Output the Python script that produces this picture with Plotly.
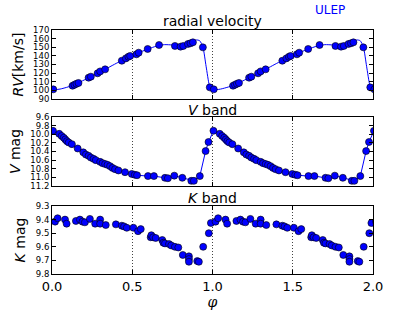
import plotly.graph_objects as go

# ---- data (one pulsation cycle) ----
rv_phase = [0.008, 0.128, 0.14, 0.152, 0.165, 0.228, 0.242, 0.284, 0.30, 0.331,
            0.435, 0.46, 0.476, 0.487, 0.526, 0.54, 0.596, 0.667, 0.766, 0.801,
            0.818, 0.847, 0.863, 0.878, 0.94, 0.983]
rv_vel = [101.2, 105.4, 106.5, 107.6, 108.6, 114.7, 115.9, 119.8, 122.0, 124.4,
          134.4, 137.1, 139.0, 139.9, 141.8, 143.7, 148.0, 152.6, 151.5, 150.7,
          151.5, 153.8, 154.6, 155.7, 149.9, 103.5]

rv_model_phase = [0.0, 0.05, 0.1, 0.15, 0.2, 0.25, 0.3, 0.35, 0.4, 0.45, 0.5, 0.55,
                  0.6, 0.65, 0.7, 0.75, 0.8, 0.85, 0.88, 0.9, 0.92, 0.94, 0.96,
                  0.98, 0.99]
rv_model_vel = [100.5, 101.5, 104.0, 107.5, 112.0, 116.5, 121.3, 126.3, 131.3, 136.0,
                140.5, 144.5, 148.0, 151.3, 153.0, 152.7, 152.7, 154.6, 157.0, 158.5,
                157.6, 150.5, 128.0, 106.0, 101.8]

v_phase = [0.006, 0.045, 0.06, 0.073, 0.083, 0.093, 0.104, 0.124, 0.16, 0.195,
           0.211, 0.228, 0.242, 0.259, 0.273, 0.30, 0.315, 0.331, 0.346, 0.362,
           0.377, 0.393, 0.414, 0.455, 0.497, 0.516, 0.53, 0.598, 0.635, 0.704,
           0.722, 0.762, 0.812, 0.868, 0.884, 0.921, 0.957, 0.975]
v_mag = [9.92, 9.99, 10.04, 10.08, 10.12, 10.16, 10.19, 10.23, 10.33, 10.42,
         10.47, 10.50, 10.54, 10.57, 10.60, 10.64, 10.67, 10.69, 10.71, 10.74,
         10.78, 10.81, 10.84, 10.88, 10.92, 10.94, 10.95, 10.97, 10.97, 11.01,
         11.02, 10.96, 11.01, 11.08, 11.08, 10.97, 10.39, 10.18]

k_phase = [0.019, 0.035, 0.081, 0.091, 0.149, 0.174, 0.19, 0.205, 0.236, 0.269,
           0.30, 0.30, 0.335, 0.398, 0.435, 0.449, 0.466, 0.507, 0.536, 0.553,
           0.615, 0.619, 0.63, 0.646, 0.687, 0.694, 0.704, 0.729, 0.743, 0.766,
           0.787, 0.815, 0.853, 0.853, 0.853, 0.905, 0.915, 0.942, 0.977, 0.99]
k_mag = [9.415, 9.39, 9.40, 9.43, 9.41, 9.40, 9.415, 9.42, 9.395, 9.43,
         9.40, 9.43, 9.44, 9.435, 9.445, 9.45, 9.46, 9.46, 9.485, 9.47,
         9.53, 9.515, 9.53, 9.535, 9.55, 9.57, 9.575, 9.58, 9.59, 9.60,
         9.605, 9.66, 9.67, 9.69, 9.71, 9.705, 9.71, 9.60, 9.50, 9.425]

x_ticks = [0.0, 0.5, 1.0, 1.5, 2.0]
x_tick_text = ["0.0", "0.5", "1.0", "1.5", "2.0"]

CYCLES = [0, 1, 2]


def unfold(ph, val):
    xs, ys = [], []
    for c in CYCLES:
        xs += [p + c for p in ph]
        ys += list(val)
    return xs, ys


BLUE = "#0000ff"
FONT = "DejaVu Sans"
marker = dict(color=BLUE, size=7, line=dict(color="black", width=0.6))

fig = go.Figure()

mx, my = unfold(rv_model_phase, rv_model_vel)
fig.add_trace(go.Scatter(x=mx, y=my, mode="lines", line=dict(color=BLUE, width=1, shape="spline", smoothing=0.6),
                         xaxis="x", yaxis="y", showlegend=False))
px_, py_ = unfold(rv_phase, rv_vel)
fig.add_trace(go.Scatter(x=px_, y=py_, mode="markers", marker=marker, xaxis="x", yaxis="y", showlegend=False))

vx, vy = unfold(v_phase, v_mag)
fig.add_trace(go.Scatter(x=vx, y=vy, mode="lines+markers", line=dict(color=BLUE, width=1), marker=marker,
                         xaxis="x2", yaxis="y2", showlegend=False))

kx, ky = unfold(k_phase, k_mag)
fig.add_trace(go.Scatter(x=kx, y=ky, mode="markers", marker=marker, xaxis="x3", yaxis="y3", showlegend=False))

# geometry (pixels): plot area l=52 r=373, t=30 b=274
H = 244.0
def py(p):
    return (274 - p) / H

common_x = dict(range=[0, 2], tickvals=x_ticks, ticktext=x_tick_text, ticks="inside", ticklen=4,
                tickcolor="black", showline=True, linecolor="black", linewidth=1, mirror="ticks",
                showgrid=True, gridcolor="#444444", griddash="1px,2px", gridwidth=0.6, zeroline=False,
                domain=[0, 1], automargin=False)
common_y = dict(ticks="inside", ticklen=4, tickcolor="black", showline=True, linecolor="black",
                linewidth=1, mirror="ticks", showgrid=False, zeroline=False, automargin=False,
                tickfont=dict(size=8.5, color="black", family=FONT), title_font=dict(size=14, family=FONT, color="black"))

ann = dict(xref="paper", yref="paper", showarrow=False, xanchor="center", yanchor="middle")

fig.update_layout(
    width=415, height=312,
    margin=dict(l=52, r=42, t=30, b=38),
    paper_bgcolor="white", plot_bgcolor="white",
    font=dict(family=FONT, color="black"),
    xaxis=dict(common_x, anchor="y", showticklabels=False),
    xaxis2=dict(common_x, anchor="y2", showticklabels=False),
    xaxis3=dict(common_x, anchor="y3", showticklabels=True, tickfont=dict(size=13, family=FONT, color="black"),
                title=dict(text="<i>φ</i>", font=dict(size=14, family="DejaVu Serif", color="black"), standoff=4)),
    yaxis=dict(common_y, domain=[py(99), py(30)], range=[90, 170], tickvals=list(range(90, 171, 10)),
               title=dict(text="<i>RV</i>[km/s]", standoff=6)),
    yaxis2=dict(common_y, domain=[py(186), py(117)], range=[11.2, 9.6],
                tickvals=[9.6, 9.8, 10.0, 10.2, 10.4, 10.6, 10.8, 11.0, 11.2],
                ticktext=["9.6", "9.8", "10.0", "10.2", "10.4", "10.6", "10.8", "11.0", "11.2"],
                title=dict(text="<i>V</i> mag", standoff=6)),
    yaxis3=dict(common_y, domain=[0, py(206)], range=[9.8, 9.3],
                tickvals=[9.3, 9.4, 9.5, 9.6, 9.7, 9.8],
                ticktext=["9.3", "9.4", "9.5", "9.6", "9.7", "9.8"],
                title=dict(text="<i>K</i> mag", standoff=6)),
    annotations=[
        dict(ann, text="radial velocity", x=0.5, y=py(21), font=dict(size=14, family=FONT, color="black")),
        dict(ann, text="<i>V</i> band", x=0.5, y=py(110), font=dict(size=14, family=FONT, color="black")),
        dict(ann, text="<i>K</i> band", x=0.5, y=py(198), font=dict(size=14, family=FONT, color="black")),
        dict(ann, text="ULEP", x=(330 - 52) / 321.0, y=py(10), font=dict(size=12, family=FONT, color=BLUE)),
    ],
)

fig.write_html("out.html", config={"displayModeBar": False},
               post_script="document.body.style.margin='0px';")
